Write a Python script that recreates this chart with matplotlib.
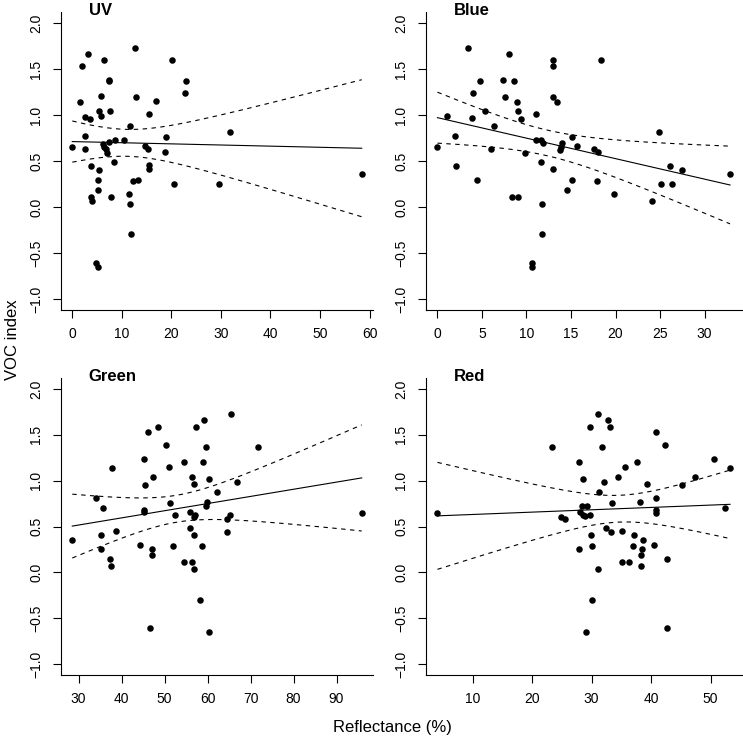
import numpy as np
import matplotlib
matplotlib.use('Agg')
import matplotlib.pyplot as plt

plt.rcParams['font.family'] = ['Liberation Sans', 'DejaVu Sans']

#Dados: reflectancia (%) x indice VOC
uv_x = [0.07, 1.93, 3.33, 6.4, 12.73, 20.07, 7.47, 7.53, 22.93, 22.87, 1.6, 5.93, 12.87, 16.87,
        5.4, 7.6, 5.93, 15.53, 2.73, 3.73, 11.67, 31.93, 2.67, 18.87, 10.47, 8.6, 7.53, 6.33,
        6.47, 14.67, 15.4, 2.6, 6.93, 7.13, 18.8, 8.47, 3.93, 5.4, 15.6, 15.53, 5.2, 12.33,
        13.4, 20.67, 29.73, 58.4, 5.33, 3.87, 4.07, 7.87, 11.53, 11.67, 11.93, 4.87, 5.33]
uv_y = [0.656, 1.536, 1.667, 1.594, 1.732, 1.594, 1.37, 1.384, 1.366, 1.236, 1.141, 1.203, 1.199, 1.149,
        1.043, 1.043, 0.993, 1.014, 0.975, 0.957, 0.884, 0.812, 0.772, 0.761, 0.732, 0.725, 0.703, 0.685,
        0.656, 0.667, 0.630, 0.627, 0.627, 0.587, 0.601, 0.489, 0.442, 0.402, 0.457, 0.413, 0.290, 0.283,
        0.297, 0.254, 0.254, 0.355, 0.188, 0.112, 0.069, 0.109, 0.145, 0.036, -0.297, -0.605, -0.652]

blue_x = [0.0, 1.09, 1.92, 2.11, 3.42, 3.98, 3.87, 4.44, 4.81, 5.34, 6.02, 6.32, 7.41, 7.59,
          8.08, 8.35, 8.65, 8.98, 9.06, 9.06, 9.40, 9.85, 10.6, 10.6, 11.02, 11.09, 11.62, 11.62,
          11.77, 11.77, 11.88, 12.97, 13.0, 13.0, 13.0, 13.46, 13.8, 13.9, 14.0, 14.5, 15.15, 15.15,
          15.68, 17.63, 18.08, 18.35, 17.97, 19.81, 24.14, 24.92, 25.08, 26.17, 26.32, 27.41, 32.86]
blue_y = [0.656, 0.989, 0.768, 0.442, 1.732, 1.236, 0.971, 0.290, 1.366, 1.043, 0.627, 0.884, 1.384, 1.199,
          1.663, 0.109, 1.366, 1.141, 1.040, 0.109, 0.957, 0.587, -0.605, -0.652, 1.014, 0.732, 0.728, 0.489,
          0.033, -0.297, 0.699, 1.594, 1.536, 1.199, 0.409, 1.145, 0.623, 0.656, 0.692, 0.188, 0.761, 0.297,
          0.663, 0.630, 0.601, 1.594, 0.283, 0.145, 0.069, 0.812, 0.254, 0.449, 0.254, 0.402, 0.355]

green_x = [28.54, 34.15, 35.62, 35.31, 35.15, 37.69, 38.69, 37.38, 37.62, 44.31, 45.31, 45.38, 45.15, 45.15,
           46.15, 47.38, 47.0, 47.15, 46.69, 48.54, 50.23, 51.0, 51.31, 51.85, 52.54, 54.62, 54.54, 56.0,
           55.92, 56.31, 56.38, 56.77, 57.15, 56.92, 56.92, 56.92, 57.23, 58.15, 58.62, 58.92, 59.08, 59.62,
           59.69, 59.92, 60.31, 60.23, 62.31, 64.54, 64.62, 65.15, 65.46, 66.77, 71.69, 95.85]
green_y = [0.351, 0.812, 0.699, 0.402, 0.254, 1.138, 0.446, 0.145, 0.069, 0.297, 1.236, 0.953, 0.685, 0.659,
           1.536, 1.040, 0.250, 0.188, -0.609, 1.591, 1.384, 1.145, 0.757, 0.283, 0.627, 1.199, 0.109, 0.659,
           0.489, 0.109, 1.040, 0.967, 0.623, 0.605, 0.406, 0.033, 1.591, -0.301, 0.286, 1.199, 1.659, 1.366,
           0.721, 0.768, 1.014, -0.656, 0.880, 0.438, 0.583, 0.623, 1.728, 0.989, 1.366, 0.652]

red_x = [4.09, 23.39, 24.8, 25.47, 27.95, 27.83, 28.57, 28.12, 28.45, 28.57, 28.9, 29.3, 29.13, 29.72,
         29.78, 29.95, 30.0, 30.14, 31.04, 31.27, 31.15, 31.66, 32.11, 32.39, 32.73, 33.01, 33.29, 33.46,
         34.47, 35.09, 35.15, 35.54, 36.33, 36.89, 37.12, 37.68, 38.07, 38.24, 38.24, 38.52, 38.58, 39.25,
         40.49, 40.77, 40.83, 40.88, 40.88, 42.35, 42.69, 42.69, 45.22, 47.3, 50.62, 52.48, 53.26]
red_y = [0.652, 1.366, 0.605, 0.587, 1.199, 0.250, 1.014, 0.663, 0.721, 0.623, 0.616, 0.728, -0.656, 1.591,
         0.623, 0.406, -0.301, 0.283, 1.728, 0.880, 0.033, 1.366, 0.989, 0.489, 1.659, 1.591, 0.438, 0.757,
         1.040, 0.446, 0.109, 1.145, 0.109, 0.286, 0.402, 1.199, 0.768, 0.188, 0.069, 0.250, 0.355, 0.967,
         0.297, 1.536, 0.808, 0.685, 0.652, 1.384, 0.141, -0.609, 0.953, 1.040, 1.236, 0.699, 1.138]

paineis = [
    ('UV', uv_x, uv_y, [0, 10, 20, 30, 40, 50, 60]),
    ('Blue', blue_x, blue_y, [0, 5, 10, 15, 20, 25, 30]),
    ('Green', green_x, green_y, [30, 40, 50, 60, 70, 80, 90]),
    ('Red', red_x, red_y, [10, 20, 30, 40, 50]),
]
y_ticks = [-1.0, -0.5, 0.0, 0.5, 1.0, 1.5, 2.0]

#posicoes dos paineis [left, bottom, width, height]
posicoes = [
    [0.0817, 0.5794, 0.4207, 0.4043],
    [0.5730, 0.5794, 0.4253, 0.4043],
    [0.0817, 0.0841, 0.4207, 0.4030],
    [0.5730, 0.0841, 0.4253, 0.4030],
]

T_QUANT = 2.006  # t(0.975, ~53 gl)

fig = plt.figure(figsize=(7.43, 7.37), dpi=100)

for (nome, xs, ys, xt), pos in zip(paineis, posicoes):
    ax = fig.add_axes(pos)
    x = np.array(xs)
    y = np.array(ys)

    #regressao linear + intervalo de confianca 95%
    n = len(x)
    b, a = np.polyfit(x, y, 1)
    resid = y - (a + b * x)
    s = np.sqrt(np.sum(resid ** 2) / (n - 2))
    sxx = np.sum((x - x.mean()) ** 2)
    xg = np.linspace(x.min(), x.max(), 200)
    yg = a + b * xg
    se = s * np.sqrt(1.0 / n + (xg - x.mean()) ** 2 / sxx)

    ax.scatter(x, y, s=22, color='black', linewidths=0, zorder=3)
    ax.plot(xg, yg, color='black', lw=0.8)
    ax.plot(xg, yg + T_QUANT * se, color='black', lw=0.8, dashes=(4, 4))
    ax.plot(xg, yg - T_QUANT * se, color='black', lw=0.8, dashes=(4, 4))

    #limites estilo R (4% de folga)
    r = x.max() - x.min()
    ax.set_xlim(x.min() - 0.04 * r, x.max() + 0.04 * r)
    ax.set_ylim(-1.12, 2.12)

    ax.set_xticks(xt)
    ax.set_xticklabels([str(v) for v in xt], fontsize=10)
    ax.set_yticks(y_ticks)
    ax.set_yticklabels([f'{v:.1f}'.replace('-', '\u2212') for v in y_ticks],
                       fontsize=10, rotation=90, va='center')
    ax.tick_params(length=5.5, width=0.8, pad=7)

    ax.spines['top'].set_visible(False)
    ax.spines['right'].set_visible(False)
    ax.spines['left'].set_linewidth(0.8)
    ax.spines['bottom'].set_linewidth(0.8)

    ax.text(0.09, 0.99, nome, transform=ax.transAxes, fontsize=12,
            fontweight='bold', ha='left', va='baseline')

fig.text(0.0171, 0.5387, 'VOC index', rotation=90, fontsize=12, ha='center', va='center')
fig.text(0.5276, 0.0135, 'Reflectance (%)', fontsize=12, ha='center', va='center')

fig.savefig('out.png', dpi=100)
